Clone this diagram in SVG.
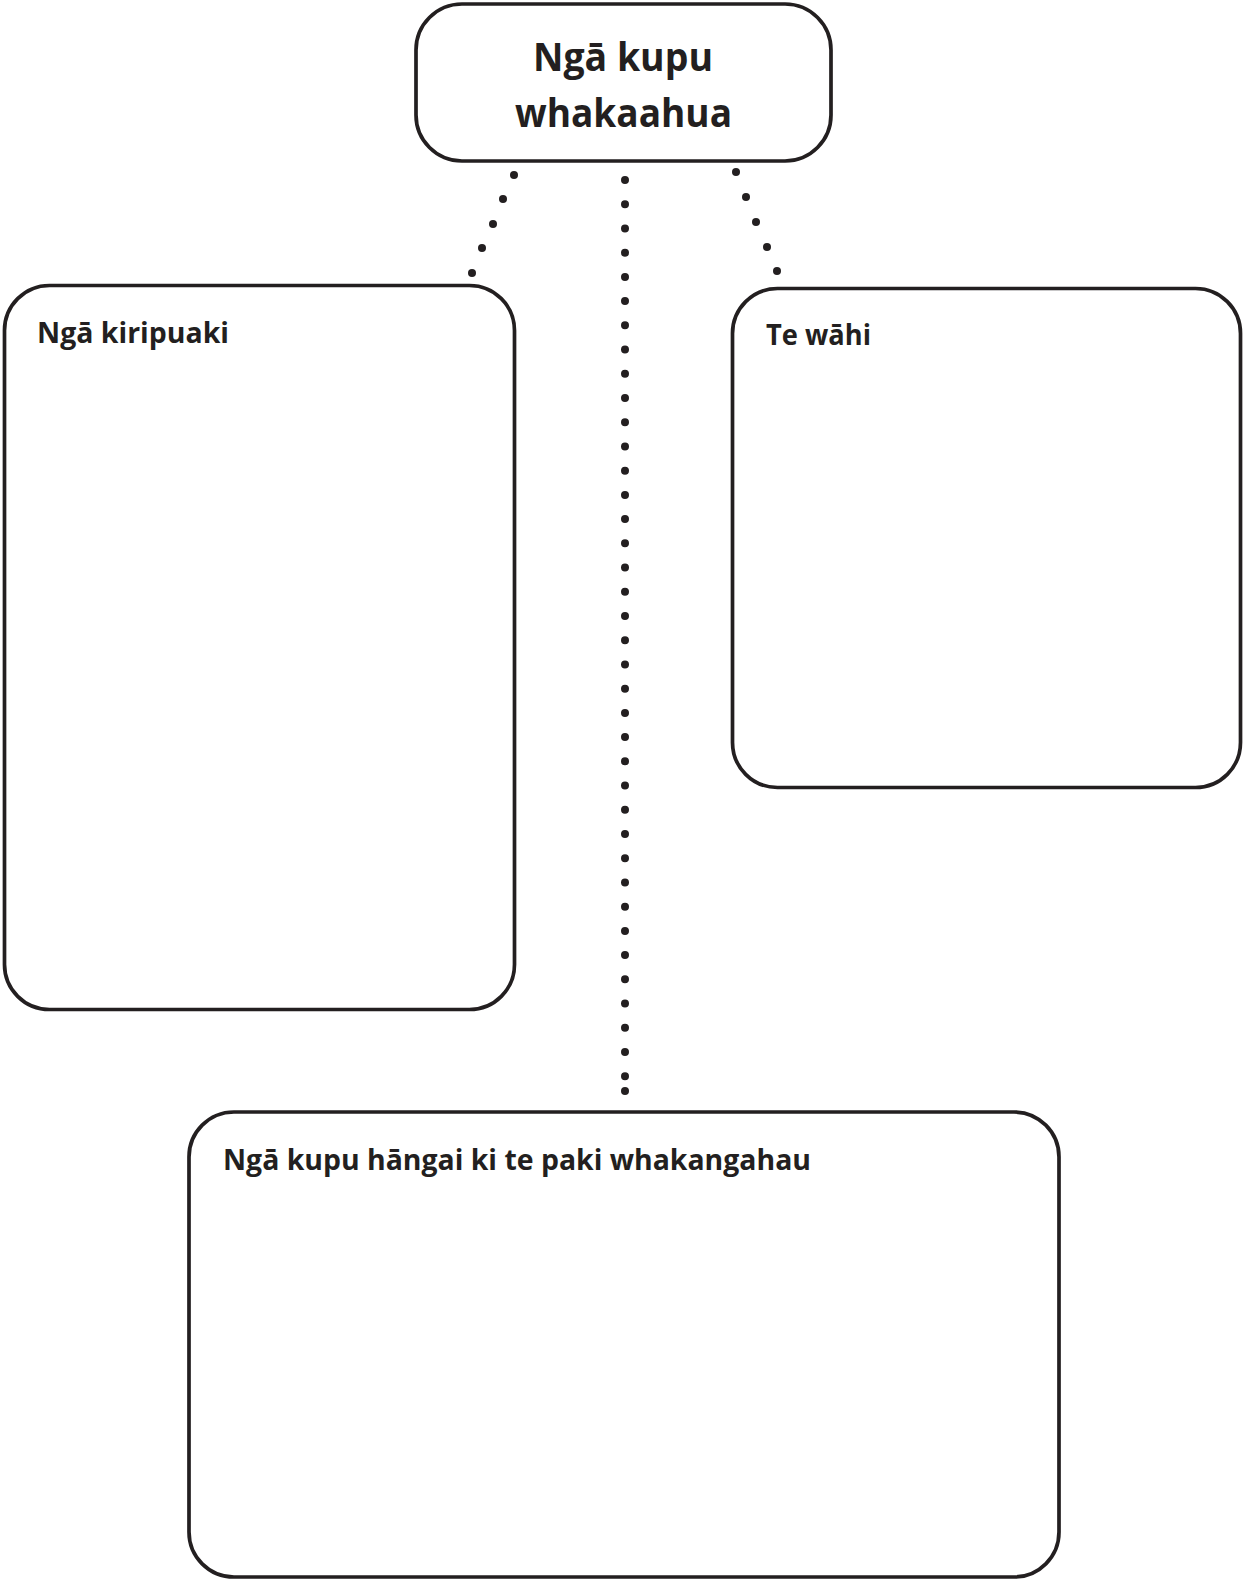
<svg xmlns="http://www.w3.org/2000/svg" width="1244" height="1581" viewBox="0 0 1244 1581">
<style>
.box{fill:#fff;stroke:#231f20;stroke-width:3.7}
.t{font-family:"Open Sans","Liberation Sans",sans-serif;font-weight:bold;fill:#231f20}
.title{font-size:39px}
.lbl{font-size:29px}
.dot{fill:#231f20}
</style>
<rect width="1244" height="1581" fill="#fff"/>
<g id="connectors">
<g id="conn-left">
<circle class="dot" cx="514" cy="175" r="4"/>
<circle class="dot" cx="503" cy="199" r="4"/>
<circle class="dot" cx="493" cy="224" r="4"/>
<circle class="dot" cx="482" cy="248" r="4"/>
<circle class="dot" cx="472" cy="273" r="4"/>
</g>
<g id="conn-right">
<circle class="dot" cx="736" cy="172" r="4"/>
<circle class="dot" cx="746" cy="197" r="4"/>
<circle class="dot" cx="756" cy="222" r="4"/>
<circle class="dot" cx="767" cy="247" r="4"/>
<circle class="dot" cx="777" cy="271" r="4"/>
</g>
<g id="conn-center">
<line x1="625" y1="180" x2="625" y2="1078" stroke="#231f20" stroke-width="8" stroke-linecap="round" stroke-dasharray="0 24.222"/>
<circle class="dot" cx="625" cy="1091" r="4"/>
</g>
</g>
<g id="node-title">
<rect class="box" x="416" y="4" width="415" height="157" rx="46" ry="46"/>
<text class="t title" x="623" y="71" text-anchor="middle" textLength="180" lengthAdjust="spacingAndGlyphs">Ngā kupu</text>
<text class="t title" x="623.5" y="127" text-anchor="middle" textLength="217" lengthAdjust="spacingAndGlyphs">whakaahua</text>
</g>
<g id="node-kiripuaki">
<rect class="box" x="4.5" y="285.5" width="510" height="724" rx="45" ry="45"/>
<text class="t lbl" x="37" y="343" textLength="192" lengthAdjust="spacingAndGlyphs">Ngā kiripuaki</text>
</g>
<g id="node-wahi">
<rect class="box" x="732.5" y="288.5" width="508" height="499" rx="45" ry="45"/>
<text class="t lbl" x="766" y="345" textLength="105" lengthAdjust="spacingAndGlyphs">Te wāhi</text>
</g>
<g id="node-kupu-hangai">
<rect class="box" x="189" y="1112" width="870" height="465" rx="45" ry="45"/>
<text class="t lbl" x="223" y="1170" textLength="588" lengthAdjust="spacingAndGlyphs">Ngā kupu hāngai ki te paki whakangahau</text>
</g>
</svg>
